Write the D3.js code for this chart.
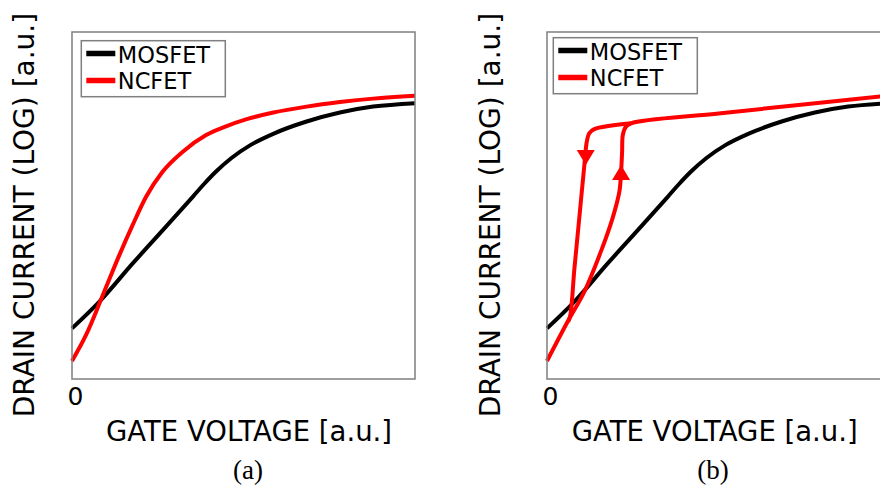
<!DOCTYPE html>
<html>
<head>
<meta charset="utf-8">
<script src="https://cdn.jsdelivr.net/npm/d3@7"></script>
<style>
  html, body { margin: 0; padding: 0; background: #fff; }
  svg { display: block; }
</style>
</head>
<body>
<svg id="chart" width="880" height="485"></svg>
<script>
// ---- Transfer characteristics (arbitrary units, 0..10 on both axes) ----
// MOSFET reference curve (same in both panels)
const mosfetV = [0, 0.80, 1.77, 2.74, 3.52, 3.85, 4.20, 4.65, 5.20, 5.90, 6.84, 7.81, 8.78, 10];
const mosfetI = [1.46, 2.23, 3.33, 4.39, 5.25, 5.62, 5.98, 6.37, 6.74, 7.08, 7.42, 7.68, 7.85, 7.95];

// NCFET, non-hysteretic (panel a)
const ncfetV = [0, 0.41, 0.90, 1.38, 1.77, 2.16, 2.64, 3.23, 3.91, 4.49, 5.07, 5.87, 6.84, 7.81, 8.78, 10];
const ncfetI = [0.52, 1.27, 2.42, 3.57, 4.44, 5.25, 5.97, 6.55, 7.03, 7.28, 7.48, 7.68, 7.85, 7.98, 8.08, 8.16];

// NCFET with hysteresis (panel b): forward sweep
const sweepUpV = [0, 0.60, 1.09, 1.57, 1.91, 2.11, 2.16, 2.19, 2.21, 2.30, 2.45, 5.07, 10];
const sweepUpI = [0.52, 1.65, 2.52, 3.67, 4.63, 5.40, 5.97, 6.55, 7.03, 7.27, 7.37, 7.66, 8.17];
// reverse sweep
const sweepDownV = [2.45, 1.38, 1.23, 1.16, 1.09, 0.94, 0.80, 0.68, 0.62];
const sweepDownI = [7.37, 7.20, 7.08, 6.84, 6.17, 4.63, 3.19, 1.84, 1.65];

// sweep-direction arrows: tip position and direction (+1 up, -1 down)
const arrowV = [1.13, 2.16];
const arrowI = [6.17, 6.17];
const arrowDir = [-1, 1];

const seriesNames = ["MOSFET", "NCFET"];
const seriesColors = ["#000000", "#ff0000"];
const xTickValues = [0];
const xTitle = "GATE VOLTAGE [a.u.]";
const yTitle = "DRAIN CURRENT (LOG) [a.u.]";

// ---- Layout ----
const W = 343, H = 347, TOP = 32;
const SANS = "'DejaVu Sans', Verdana, sans-serif";
const SERIF = "'Liberation Serif', 'Times New Roman', serif";

const x = d3.scaleLinear().domain([0, 10]).range([0, W]);
const y = d3.scaleLinear().domain([0, 10]).range([H, 0]);

const zip = (xs, ys) => xs.map((v, i) => [v, ys[i]]);

const panels = [
  {
    left: 72, caption: "(a)", captionX: 248, xTitleX: 106, yTitleX: 33.5,
    legendX: 9.3, legendY: 8.7,
    curves: [
      { pts: zip(mosfetV, mosfetI), color: seriesColors[0], curve: d3.curveMonotoneX },
      { pts: zip(ncfetV, ncfetI), color: seriesColors[1], curve: d3.curveMonotoneX }
    ],
    arrows: false
  },
  {
    left: 547, caption: "(b)", captionX: 713, xTitleX: 571.7, yTitleX: 499.5,
    legendX: 6.3, legendY: 5.7,
    curves: [
      { pts: zip(mosfetV, mosfetI), color: seriesColors[0], curve: d3.curveMonotoneX },
      { pts: zip(sweepUpV, sweepUpI), color: seriesColors[1], curve: d3.curveCatmullRom.alpha(0.5) },
      { pts: zip(sweepDownV, sweepDownI), color: seriesColors[1], curve: d3.curveCatmullRom.alpha(0.5) }
    ],
    arrows: true
  }
];

const svg = d3.select("#chart");
svg.append("rect").attr("width", 880).attr("height", 485).attr("fill", "#fff");

panels.forEach(p => {
  const g = svg.append("g").attr("transform", `translate(${p.left},${TOP})`);

  // curves
  p.curves.forEach(c => {
    const line = d3.line().x(d => x(d[0])).y(d => y(d[1])).curve(c.curve);
    g.append("path")
      .attr("d", line(c.pts))
      .attr("fill", "none")
      .attr("stroke", c.color)
      .attr("stroke-width", 4)
      .attr("stroke-linejoin", "round");
  });

  // sweep arrows
  if (p.arrows) {
    const aw = 9, ah = 15;
    g.selectAll("path.arrow")
      .data(arrowV.map((v, i) => ({ v, i: arrowI[i], dir: arrowDir[i] })))
      .join("path")
      .attr("class", "arrow")
      .attr("fill", seriesColors[1])
      .attr("d", d => {
        const tx = x(d.v), ty = y(d.i), by = ty + d.dir * ah;
        return `M${tx},${ty}L${tx - aw},${by}L${tx + aw},${by}Z`;
      });
  }

  // frame
  g.append("rect")
    .attr("width", W).attr("height", H)
    .attr("fill", "none").attr("stroke", "#7f7f7f").attr("stroke-width", 1.5);

  // x axis: only the origin tick is labelled
  const axis = g.append("g")
    .attr("transform", `translate(0,${H})`)
    .call(d3.axisBottom(x).tickValues(xTickValues).tickSize(0).tickPadding(8).tickFormat(d3.format("d")));
  axis.select(".domain").remove();
  axis.selectAll("text")
    .attr("dx", 3)
    .style("font-family", SANS).style("font-size", "25px").attr("fill", "#000");

  // legend
  const lg = g.append("g").attr("transform", `translate(${p.legendX},${p.legendY})`);
  lg.append("rect").attr("width", 144).attr("height", 56)
    .attr("fill", "#fff").attr("stroke", "#7f7f7f").attr("stroke-width", 1.5);
  seriesNames.forEach((name, i) => {
    lg.append("line")
      .attr("x1", 5).attr("x2", 34)
      .attr("y1", 12.8 + i * 27).attr("y2", 12.8 + i * 27)
      .attr("stroke", seriesColors[i]).attr("stroke-width", 5.5);
    lg.append("text")
      .attr("x", 36.5).attr("y", 22.6 + i * 25.3)
      .style("font-family", SANS).style("font-size", "22.5px")
      .attr("fill", "#000").text(name);
  });

  // axis titles
  svg.append("text")
    .attr("x", p.xTitleX).attr("y", 440.7)
    .style("font-family", SANS).style("font-size", "27.5px")
    .attr("fill", "#000").text(xTitle);
  svg.append("text")
    .attr("transform", `translate(${p.yTitleX},215) rotate(-90)`)
    .attr("text-anchor", "middle")
    .style("font-family", SANS).style("font-size", "28px")
    .attr("fill", "#000").text(yTitle);

  // panel caption
  svg.append("text")
    .attr("x", p.captionX).attr("y", 478.5)
    .attr("text-anchor", "middle")
    .style("font-family", SERIF).style("font-size", "27px")
    .attr("fill", "#000").text(p.caption);
});
</script>
</body>
</html>
